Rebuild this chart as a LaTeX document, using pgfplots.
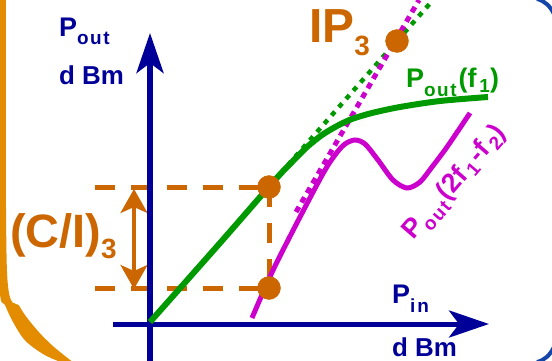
\documentclass[border=0pt]{standalone}
\usepackage{fontspec}
\setmainfont{Liberation Sans}
\usepackage{pgfplots}
\pgfplotsset{compat=1.18}
\usetikzlibrary{arrows.meta}

\definecolor{axisblue}{RGB}{0,0,153}
\definecolor{fundgreen}{RGB}{0,153,0}
\definecolor{imdmag}{RGB}{204,0,204}
\definecolor{ipor}{RGB}{204,102,0}
\definecolor{frameor}{RGB}{227,140,0}
\definecolor{frameblue}{RGB}{20,70,170}

% lowered, smaller bold text for subscripts (kept in the text font)
\newcommand\sub[2][7]{\raisebox{-#1bp}{\fontsize{19}{20}\selectfont\bfseries #2}}
\newcommand\outsub{o\kern1.5bp u\kern1.5bp t}

\begin{document}
\begin{tikzpicture}
\begin{axis}[
  at={(0,0)}, anchor=south west,
  scale only axis, width=552bp, height=361bp,
  xmin=0, xmax=552, ymin=0, ymax=361, y dir=reverse,
  hide axis, clip=false,
]
\coordinate (TL) at (axis cs:0,0);
\coordinate (BR) at (axis cs:552,361);

% slide frame pieces
\fill[frameor] plot[smooth] coordinates {(-1,-2) (-1,272) (6,307) (23,338) (43,354) (63,363)}
  -- plot[smooth] coordinates {(74,363) (54,347) (37,330) (20,307) (7,272) (6,-2)} -- cycle;
\draw[frameblue, line width=4bp] (537,-1) .. controls (545,1) and (550,6) .. (554,14);
\draw[frameblue, line width=4bp] (537,362) .. controls (545,360) and (550,355) .. (554,347);

% (C/I)_3 construction
\draw[ipor, line width=5bp, dash pattern=on 20bp off 16bp] (95,187) -- (269,187);
\draw[ipor, line width=5bp, dash pattern=on 20bp off 16bp] (95,288) -- (269,288);
\draw[ipor, line width=5bp, dash pattern=on 20bp off 16bp] (269,187) -- (269,288);
\draw[ipor, line width=3.5bp, {Stealth[length=24bp,width=27bp,inset=6bp]}-{Stealth[length=24bp,width=27bp,inset=6bp]}] (134,189) -- (134,289);

% axes
\draw[axisblue, line width=5.5bp, -{Stealth[length=40bp,width=27bp,inset=10bp]}] (150,365) -- (150,33);
\draw[axisblue, line width=5bp, -{Stealth[length=40bp,width=27bp,inset=10bp]}] (113,324) -- (489,324);

% extrapolated responses
\addplot[fundgreen, line width=4.5bp, dash pattern=on 5bp off 6bp]
  coordinates {(150,322) (433,0)};
\addplot[imdmag, line width=5bp, dash pattern=on 6bp off 5bp]
  coordinates {(296,212) (419,0)};

% measured responses
\addplot[fundgreen, line width=6bp, smooth]
  coordinates {(150,322) (220,243) (275,180) (292,162) (307,147) (322,135) (337,126) (352,119) (372,113) (400,107) (440,101) (488,97)};
\addplot[imdmag, line width=5bp, smooth]
  coordinates {(252,318) (276,264) (320,179) (335,155) (345,144) (355,140) (365,144) (378,160) (393,180) (407,188) (420,182) (432,167) (447,147) (470,113)};

% intercept and carrier / IM levels
\addplot[ipor, only marks, mark=*, mark size=11.5bp]
  coordinates {(269,187) (269,288) (397,41)};

% labels
\node[axisblue, anchor=base west, inner sep=0] at (axis cs:59,36)
  {\fontsize{27}{30}\selectfont\bfseries P\sub[8]{\outsub}};
\node[axisblue, anchor=base west, inner sep=0] at (axis cs:59,84)
  {\fontsize{26}{30}\selectfont\bfseries d Bm};
\node[axisblue, anchor=base west, inner sep=0] at (axis cs:392,303)
  {\fontsize{27}{30}\selectfont\bfseries P\sub[9]{i\kern2bp n}};
\node[axisblue, anchor=base west, inner sep=0] at (axis cs:392,356)
  {\fontsize{26}{30}\selectfont\bfseries d Bm};
\node[ipor, anchor=base west, inner sep=0] at (axis cs:309,42)
  {\fontsize{48}{52}\selectfont\bfseries IP\raisebox{-13bp}{\fontsize{28}{30}\selectfont\bfseries 3}};
\node[ipor, anchor=base west, inner sep=0] at (axis cs:10,247)
  {\fontsize{47}{52}\selectfont\bfseries (C/I)\raisebox{-11bp}{\fontsize{28}{30}\selectfont\bfseries 3}};
\node[fundgreen, anchor=base west, inner sep=0] at (axis cs:406,87)
  {\fontsize{27}{30}\selectfont\bfseries P\sub[9]{\outsub}\kern2bp(f\kern3bp\sub[5]{1})};
\node[imdmag, anchor=base west, inner sep=0, rotate=49] at (axis cs:413,241)
  {\fontsize{27}{30}\selectfont\bfseries P\sub[8]{\outsub}\kern2bp(2f\kern3bp\sub[5]{1}\kern3bp-f\kern3bp\sub[5]{2})};
\end{axis}
\pgfresetboundingbox
\path (TL) rectangle (BR);
\end{tikzpicture}
\end{document}
